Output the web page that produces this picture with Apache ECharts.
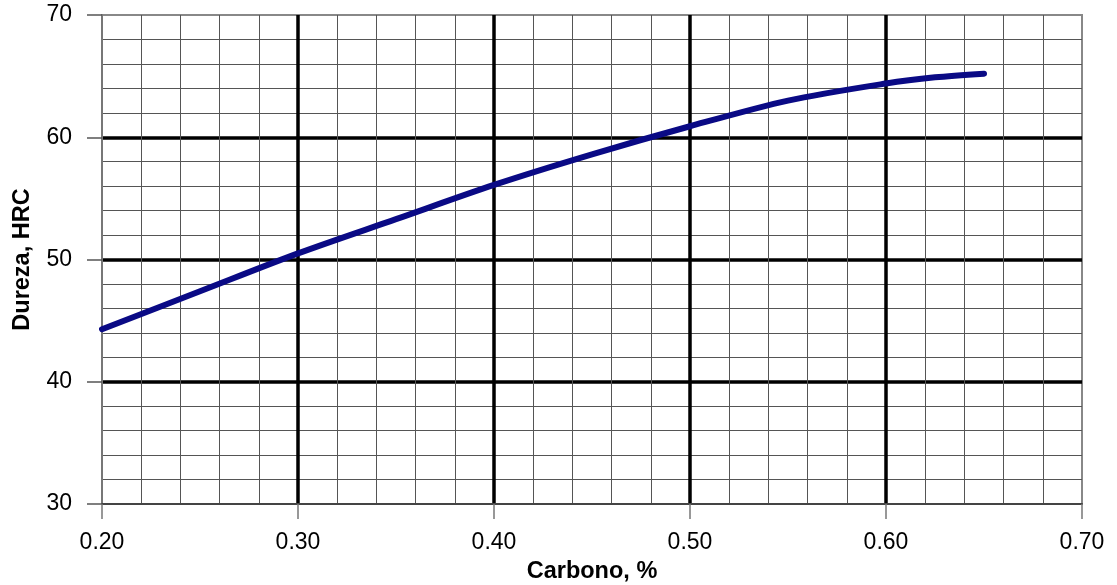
<!DOCTYPE html>
<html>
<head>
<meta charset="utf-8">
<script src="https://cdn.jsdelivr.net/npm/echarts@6/dist/echarts.min.js"></script>
<style>
  html, body { margin: 0; padding: 0; background: #fff; }
  #chart { width: 1117px; height: 585px; }
</style>
</head>
<body>
<div id="chart"></div>
<script>
// Hardness vs carbon content
const carbono = [0.20, 0.25, 0.30, 0.35, 0.40, 0.45, 0.50, 0.55, 0.60, 0.625, 0.65];
const dureza  = [44.3, 47.4, 50.5, 53.3, 56.1, 58.6, 60.9, 63.0, 64.4, 64.9, 65.2];

const xTitle = 'Carbono, %';
const yTitle = 'Dureza, HRC';

const chart = echarts.init(document.getElementById('chart'), null, { renderer: 'canvas' });

const labelFont = { fontFamily: 'Liberation Sans, Arial, sans-serif', fontSize: 23, color: '#000' };
const titleFont = { fontFamily: 'Liberation Sans, Arial, sans-serif', fontSize: 23.5, fontWeight: 'bold', color: '#000' };

chart.setOption({
  animation: false,
  backgroundColor: '#fff',
  grid: {
    left: 102, right: 35, top: 15, bottom: 81,
    outerBoundsMode: 'none',
    containLabel: false,
    show: true, borderColor: '#888', borderWidth: 2, backgroundColor: '#fff'
  },
  xAxis: {
    type: 'value',
    min: 0.2, max: 0.7, interval: 0.1,
    name: xTitle, nameLocation: 'middle', nameGap: 56,
    nameTextStyle: titleFont,
    axisLine: { show: true, onZero: false, lineStyle: { color: '#444', width: 2 } },
    axisTick: { show: true, length: 15, lineStyle: { color: '#777', width: 1.5 } },
    axisLabel: Object.assign({ margin: 27, formatter: v => v.toFixed(2) }, labelFont),
    splitLine: { show: true, showMinLine: false, showMaxLine: false, lineStyle: { color: '#000', width: 3.5 } },
    minorTick: { show: false, splitNumber: 5 },
    minorSplitLine: { show: true, lineStyle: { color: '#555', width: 1 } }
  },
  yAxis: {
    type: 'value',
    min: 30, max: 70, interval: 10,
    name: yTitle, nameLocation: 'middle', nameGap: 67, nameRotate: 90,
    nameTextStyle: titleFont,
    axisLine: { show: true, onZero: false, lineStyle: { color: '#777', width: 2 } },
    axisTick: { show: true, length: 15, lineStyle: { color: '#555', width: 1.5 } },
    axisLabel: Object.assign({ margin: 30 }, labelFont),
    splitLine: { show: true, showMinLine: false, showMaxLine: false, lineStyle: { color: '#000', width: 3.5 } },
    minorTick: { show: false, splitNumber: 5 },
    minorSplitLine: { show: true, lineStyle: { color: '#555', width: 1 } }
  },
  series: [{
    type: 'line',
    data: carbono.map((c, i) => [c, dureza[i]]),
    smooth: 0.3,
    showSymbol: false,
    lineStyle: { color: '#0a0a85', width: 6, cap: 'round', join: 'round' },
    z: 5
  }]
});
</script>
</body>
</html>
